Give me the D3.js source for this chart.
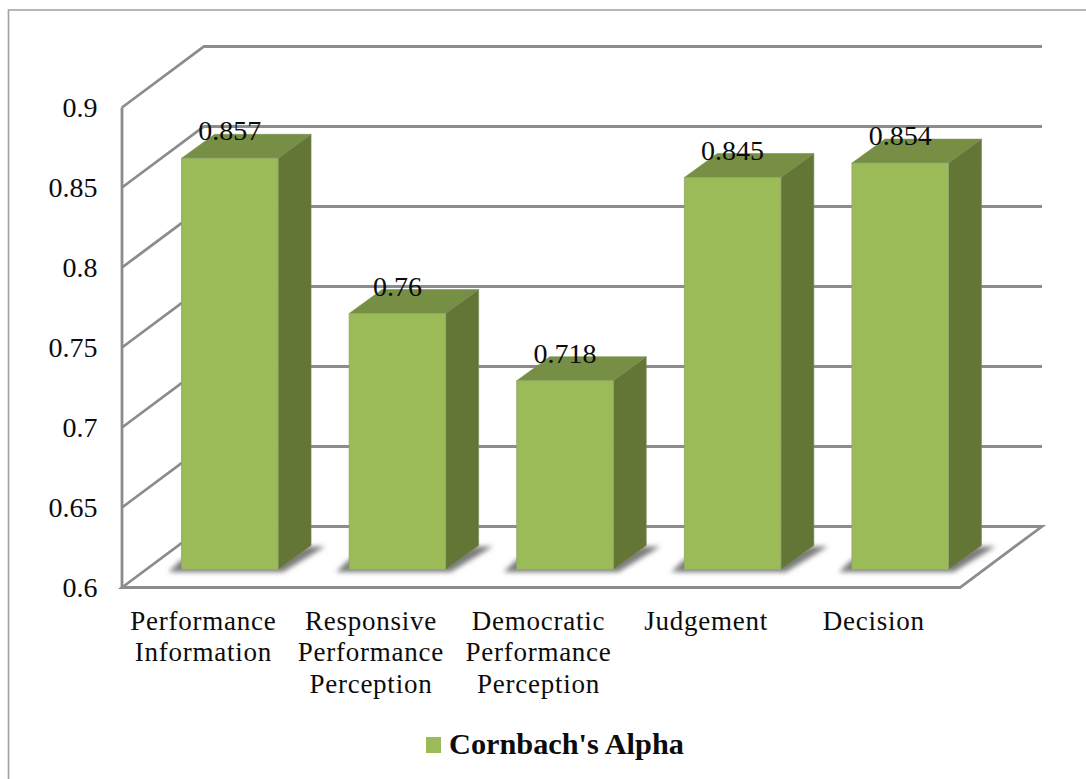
<!DOCTYPE html>
<html><head><meta charset="utf-8">
<script src="https://cdn.jsdelivr.net/npm/d3@7"></script>
<style>html,body{margin:0;padding:0;background:#fff}svg{display:block}text{font-family:"Liberation Serif",serif;fill:#0c0c0c}</style>
</head><body><svg id="c" width="1086" height="779"></svg>
<script>
const categories = [["Performance","Information"],["Responsive","Performance","Perception"],["Democratic","Performance","Perception"],["Judgement"],["Decision"]];
const alphaValues = [0.857,0.76,0.718,0.845,0.854];
const alphaLabels = ["0.857","0.76","0.718","0.845","0.854"];
const yTicks = [0.6,0.65,0.7,0.75,0.8,0.85,0.9];
const seriesName = "Cornbach's Alpha";

const svg = d3.select("#c");
const x = d3.scaleBand().domain(d3.range(categories.length)).range([122,960]).paddingInner(0.424).paddingOuter(0.212);
const y = d3.scaleLinear().domain([0.6,0.9]).range([587.5,107.5]);
const wall = {dx:82, dy:-61}, front = {dx:24, dy:-18}, depth = {dx:33, dy:-24};
const [x0,x1] = x.range();
const lineCol = "#8c8c8c";

const defs = svg.append("defs");
defs.append("filter").attr("id","blur").attr("x","-30%").attr("y","-30%").attr("width","160%").attr("height","160%")
  .append("feGaussianBlur").attr("stdDeviation",2.6);

// page frame
svg.append("path").attr("d","M1086,10H8.5V779").attr("fill","none").attr("stroke","#a0a0a0").attr("stroke-width",1.6);

// walls and floor
const grid = svg.append("g").attr("fill","none").attr("stroke",lineCol).attr("stroke-width",2.8).attr("stroke-linejoin","miter");
yTicks.slice(1).forEach(t=>{
  grid.append("path").attr("d",`M${x0},${y(t)}L${x0+wall.dx},${y(t)+wall.dy}H${x1+wall.dx}`);
});
grid.append("path").attr("d",`M${x0},${y(0.9)}V${y(0.6)}`);
grid.append("path").attr("d",`M${x0},${y(0.6)}L${x0+wall.dx},${y(0.6)+wall.dy}H${x1+wall.dx}L${x1},${y(0.6)}H${x0}Z`);

// bars
const bars = svg.append("g");
alphaValues.forEach((v,i)=>{
  const l = x(i)+front.dx, r = l+x.bandwidth();
  const b = y(0.6)+front.dy, t = y(v)+front.dy;
  const g = bars.append("g");
  g.append("path").attr("filter","url(#blur)").attr("fill","#7a7a7a")
    .attr("d",`M${l-13},${b+2.5}H${r+5}L${r+depth.dx+14},${b+depth.dy+1}H${r+depth.dx-4}L${r},${b-10}H${l}Z`);
  g.append("path").attr("fill","#768f45").attr("stroke","#7c9350").attr("stroke-width",0.6)
    .attr("d",`M${l},${t}L${l+depth.dx},${t+depth.dy}H${r+depth.dx}L${r},${t}Z`);
  g.append("path").attr("fill","#647636").attr("stroke","#7c8a5c").attr("stroke-width",0.6)
    .attr("d",`M${r},${t}L${r+depth.dx},${t+depth.dy}V${b+depth.dy}L${r},${b}Z`);
  g.append("rect").attr("x",l).attr("y",t).attr("width",x.bandwidth()).attr("height",b-t)
    .attr("fill","#9bbb59").attr("stroke","#8fa76a").attr("stroke-width",0.8);
  svg.append("text").attr("class","val").attr("x",(l+r)/2).attr("y",t-18).attr("text-anchor","middle")
    .attr("font-size",28).text(alphaLabels[i]);
});
svg.selectAll("text.val").raise();

// y axis labels
const yAxis = svg.append("g").attr("transform",`translate(${x0},0)`)
  .call(d3.axisLeft(y).tickValues(yTicks).tickSize(0).tickPadding(24.5).tickFormat(d3.format("~g")));
yAxis.select(".domain").remove();
yAxis.selectAll("text").attr("font-size",28).attr("dy","0.1em").attr("dominant-baseline","middle");
yAxis.attr("font-family",null);

// x axis labels
const xAxis = svg.append("g").attr("transform",`translate(-3,${y(0.6)})`)
  .call(d3.axisBottom(x).tickSize(0).tickFormat(""));
xAxis.select(".domain").remove();
xAxis.attr("font-family",null);
xAxis.selectAll(".tick text").each(function(d){
  const s = d3.select(this).attr("font-size",27).attr("letter-spacing",0.75).attr("y",0).attr("dy",null);
  s.selectAll("tspan").data(categories[d]).join("tspan").attr("x",0.5).attr("y",(e,j)=>42+j*31.5).text(e=>e);
});

// legend
const legend = svg.append("g");
legend.append("rect").attr("x",426).attr("y",737).attr("width",15).attr("height",16).attr("fill","#9bbb59");
legend.append("text").attr("x",449).attr("y",754).attr("font-size",30.3).attr("font-weight","bold").text(seriesName);
</script></body></html>
